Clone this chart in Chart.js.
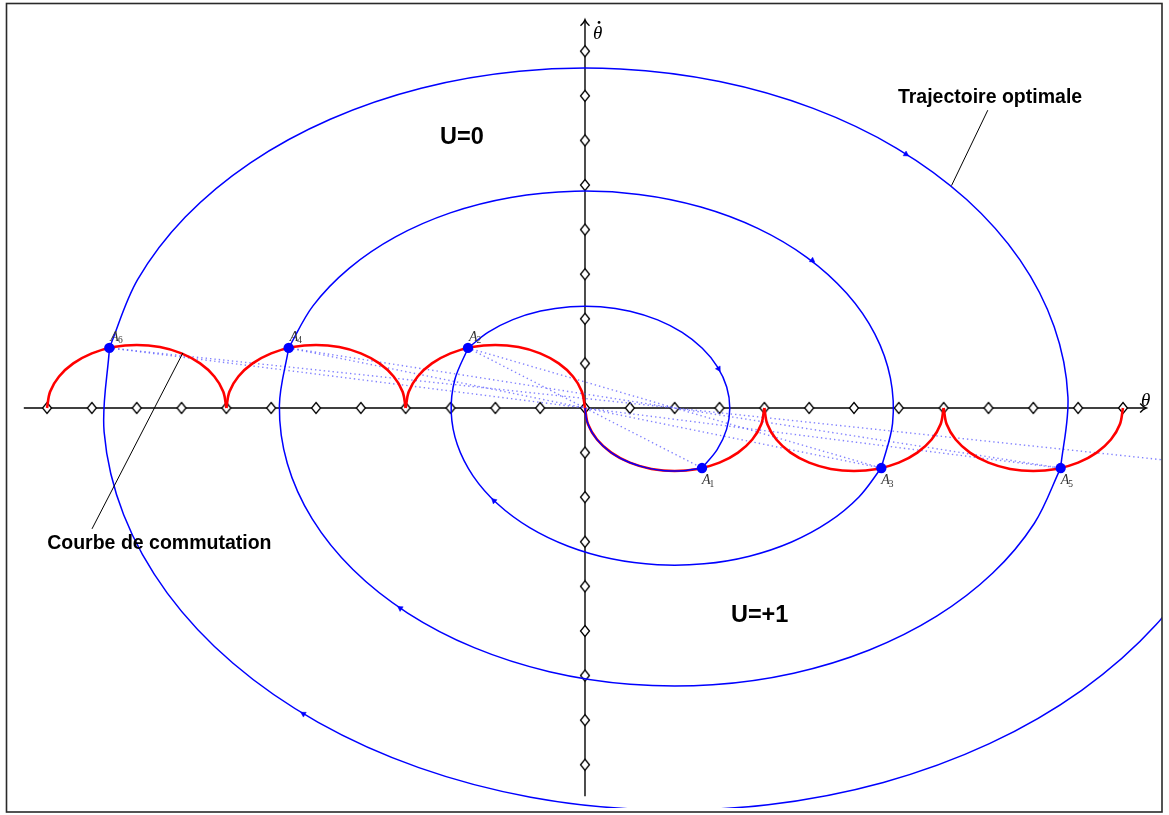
<!DOCTYPE html>
<html>
<head>
<meta charset="utf-8">
<script src="https://cdn.jsdelivr.net/npm/chart.js@4.4.1/dist/chart.umd.min.js"></script>
<style>
  html, body { margin: 0; padding: 0; background: #fff; }
  canvas { display: block; }
</style>
</head>
<body>
<canvas id="phaseChart" width="1169" height="815"></canvas>
<script>
// graduations on both axes (axis units)
const xTicks = [-12, -11, -10, -9, -8, -7, -6, -5, -4, -3, -2, -1, 0, 1, 2, 3, 4, 5, 6, 7, 8, 9, 10, 11, 12];
const yTicks = [-8, -7, -6, -5, -4, -3, -2, -1, 0, 1, 2, 3, 4, 5, 6, 7, 8];

// switching points A1..A6
const switchNames = ['1', '2', '3', '4', '5', '6'];
const switchX = [2.61, -2.61, 6.61, -6.61, 10.61, -10.61];
const switchY = [-1.347, 1.347, -1.347, 1.347, -1.347, 1.347];

// courbe de commutation (red half-arcs), [theta, thetaDot]
const commut1 = [[-12, 0], [-11.932, 0.366], [-11.732, 0.707], [-11.414, 1.0], [-11, 1.225], [-10.518, 1.366], [-10, 1.414], [-9.482, 1.366], [-9, 1.225], [-8.586, 1.0], [-8.268, 0.707], [-8.068, 0.366], [-8, 0]];
const commut2 = [[-8, 0], [-7.932, 0.366], [-7.732, 0.707], [-7.414, 1.0], [-7, 1.225], [-6.518, 1.366], [-6, 1.414], [-5.482, 1.366], [-5, 1.225], [-4.586, 1.0], [-4.268, 0.707], [-4.068, 0.366], [-4, 0]];
const commut3 = [[-4, 0], [-3.932, 0.366], [-3.732, 0.707], [-3.414, 1.0], [-3, 1.225], [-2.518, 1.366], [-2, 1.414], [-1.482, 1.366], [-1, 1.225], [-0.586, 1.0], [-0.268, 0.707], [-0.068, 0.366], [0, 0]];
const commut4 = [[0, 0], [0.068, -0.366], [0.268, -0.707], [0.586, -1.0], [1, -1.225], [1.482, -1.366], [2, -1.414], [2.518, -1.366], [3, -1.225], [3.414, -1.0], [3.732, -0.707], [3.932, -0.366], [4, 0]];
const commut5 = [[4, 0], [4.068, -0.366], [4.268, -0.707], [4.586, -1.0], [5, -1.225], [5.482, -1.366], [6, -1.414], [6.518, -1.366], [7, -1.225], [7.414, -1.0], [7.732, -0.707], [7.932, -0.366], [8, 0]];
const commut6 = [[8, 0], [8.068, -0.366], [8.268, -0.707], [8.586, -1.0], [9, -1.225], [9.482, -1.366], [10, -1.414], [10.518, -1.366], [11, -1.225], [11.414, -1.0], [11.732, -0.707], [11.932, -0.366], [12, 0]];

// trajectoire optimale, U=0 arcs (around the origin)
const u0Arc1 = [[-2.608, 1.347], [-2.156, 1.700], [-1.609, 1.981], [-0.991, 2.174], [-0.330, 2.272], [0.345, 2.271], [1.005, 2.171], [1.621, 1.975], [2.167, 1.694], [2.617, 1.338], [2.954, 0.924], [3.161, 0.470], [3.230, -0.005], [3.158, -0.480], [2.948, -0.934], [2.608, -1.347]];
const u0Arc2 = [[-6.609, 1.347], [-6.068, 2.290], [-5.262, 3.132], [-4.227, 3.837], [-3.006, 4.375], [-1.654, 4.721], [-0.230, 4.861], [1.204, 4.789], [2.585, 4.507], [3.854, 4.028], [4.954, 3.374], [5.837, 2.572], [6.467, 1.657], [6.813, 0.670], [6.861, -0.346], [6.609, -1.347]];
const u0Arc3 = [[-10.609, 1.347], [-9.980, 2.877], [-8.916, 4.282], [-7.463, 5.499], [-5.682, 6.476], [-3.655, 7.171], [-1.467, 7.551], [0.786, 7.601], [3.003, 7.320], [5.090, 6.718], [6.953, 5.824], [8.513, 4.674], [9.702, 3.320], [10.466, 1.821], [10.773, 0.242], [10.609, -1.347]];

// trajectoire optimale, U=+1 arcs (around theta = 2)
const u1Arc1 = [[2.609, -1.347], [2.201, -1.407], [1.784, -1.406], [1.376, -1.343], [0.996, -1.223], [0.658, -1.049], [0.380, -0.829], [0.172, -0.574], [0.043, -0.293], [0, 0]];
const u1Arc2 = [[6.608, -1.347], [6.111, -1.995], [5.436, -2.556], [4.609, -3.005], [3.668, -3.323], [2.655, -3.495], [1.613, -3.515], [0.588, -3.382], [-0.375, -3.100], [-1.235, -2.683], [-1.953, -2.148], [-2.498, -1.521], [-2.847, -0.826], [-2.984, -0.095], [-2.903, 0.640], [-2.608, 1.347]];
const u1Arc3 = [[10.609, -1.347], [10.024, -2.584], [9.090, -3.707], [7.845, -4.668], [6.344, -5.426], [4.655, -5.946], [2.848, -6.206], [1.005, -6.195], [-0.795, -5.913], [-2.472, -5.374], [-3.956, -4.598], [-5.177, -3.623], [-6.085, -2.488], [-6.640, -1.245], [-6.817, 0.052], [-6.609, 1.347]];
const u1Arc4 = [[13.935, -3.171], [12.742, -4.857], [11.079, -6.331], [9.021, -7.527], [6.655, -8.396], [4.085, -8.895], [1.424, -9.008], [-1.212, -8.727], [-3.707, -8.064], [-5.952, -7.049], [-7.851, -5.725], [-9.318, -4.151], [-10.291, -2.396], [-10.727, -0.537], [-10.607, 1.347]];

// small direction arrows on the trajectory
const arrowX = [7.16, 5.07, 2.98, -2.03, -4.12, -6.28];
const arrowY = [5.69, 3.31, 0.88, -2.08, -4.49, -6.86];
const arrowAngle = [122, 127, 149, -48, -56, -59];

// dotted construction lines (through O and through theta = 2)
const guides = [
  [[-10.61, 1.347], [10.61, -1.347]],
  [[-10.61, 1.347], [12.87, -1.161]],
  [[-6.61, 1.347], [6.61, -1.347]],
  [[-6.61, 1.347], [10.61, -1.347]],
  [[-2.61, 1.347], [2.61, -1.347]],
  [[-2.61, 1.347], [6.61, -1.347]]
];

// annotation leaders
const leaderTraj = [[8.985, 6.678], [8.176, 4.987]];
const leaderCommut = [[-10.997, -2.711], [-8.970, 1.234]];

const axisX = [-12.518, 12.518];
const axisY = [-8.705, 8.705];

const notes = [
  { text: 'U=0', x: -3.233, y: 5.922, size: 23.5 },
  { text: 'U=+1', x: 3.255, y: -4.798, size: 23.5 },
  { text: 'Trajectoire optimale', x: 6.98, y: 6.847, size: 19.5 },
  { text: 'Courbe de commutation', x: -11.996, y: -3.167, size: 19.5 }
];

const BLUE = '#0000ff';
const RED = '#ff0000';

const pts = arr => arr.map(([x, y]) => ({ x, y }));

function curve(arr, color, width, order, extra) {
  return Object.assign({
    data: pts(arr),
    showLine: true,
    borderColor: color,
    backgroundColor: color,
    borderWidth: width,
    pointRadius: 0,
    tension: 0.34,
    fill: false,
    order: order
  }, extra || {});
}

// tall diamond marker for the graduations
const diamond = document.createElement('canvas');
diamond.width = 12;
diamond.height = 14;
(function () {
  const c = diamond.getContext('2d');
  c.beginPath();
  c.moveTo(6, 1.5); c.lineTo(10.5, 7); c.lineTo(6, 12.5); c.lineTo(1.5, 7); c.closePath();
  c.fillStyle = '#fff';
  c.fill();
  c.lineWidth = 1.3;
  c.strokeStyle = '#000';
  c.stroke();
})();

const datasets = [];

// axes
datasets.push(curve([[axisX[0], 0], [axisX[1], 0]], '#000', 1.4, 9, { tension: 0 }));
datasets.push(curve([[0, axisY[0]], [0, axisY[1]]], '#000', 1.4, 9, { tension: 0 }));

// graduations (diamonds)
const tickPts = xTicks.map(v => [v, 0]).concat(yTicks.filter(v => v !== 0).map(v => [0, v]));
datasets.push({
  data: pts(tickPts),
  showLine: false,
  pointStyle: diamond,
  pointRadius: 6,
  order: 8
});

// dotted guides
guides.forEach(g => datasets.push(curve(g, 'rgba(90,90,255,0.75)', 1.4, 7, { tension: 0, borderDash: [1.4, 3] })));

// switching curve
[commut1, commut2, commut3, commut4, commut5, commut6].forEach(a => datasets.push(curve(a, RED, 2.6, 5)));

// trajectory
[u0Arc1, u0Arc2, u0Arc3, u1Arc1, u1Arc2, u1Arc3, u1Arc4].forEach(a => datasets.push(curve(a, BLUE, 1.5, 3)));

// leaders
datasets.push(curve(leaderTraj, '#000', 1, 2, { tension: 0 }));
datasets.push(curve(leaderCommut, '#000', 1, 2, { tension: 0 }));

// arrows on trajectory
datasets.push({
  data: arrowX.map((x, i) => ({ x, y: arrowY[i] })),
  showLine: false,
  pointStyle: 'triangle',
  pointRadius: 3.2,
  pointRotation: arrowAngle,
  pointBorderWidth: 0.5,
  pointBackgroundColor: BLUE,
  pointBorderColor: BLUE,
  order: 1
});

// switching points
const switchIndex = datasets.length;
datasets.push({
  data: switchX.map((x, i) => ({ x, y: switchY[i] })),
  showLine: false,
  pointStyle: 'circle',
  pointRadius: 5.2,
  pointBorderWidth: 0,
  pointBackgroundColor: BLUE,
  order: 0
});

const decor = {
  id: 'decor',
  afterDatasetsDraw(chart) {
    const { ctx } = chart;
    const sx = chart.scales.x, sy = chart.scales.y;
    ctx.save();

    // outer frame
    ctx.strokeStyle = '#2a2a2a';
    ctx.lineWidth = 1.6;
    ctx.strokeRect(6.5, 3.5, 1155.5, 808.5);

    // arrow heads of the axes
    ctx.strokeStyle = '#000';
    ctx.lineWidth = 1.4;
    const tx = sx.getPixelForValue(axisX[1]), ty = sy.getPixelForValue(0);
    ctx.beginPath();
    ctx.moveTo(tx - 6, ty - 4.5); ctx.quadraticCurveTo(tx - 3, ty - 1, tx, ty);
    ctx.quadraticCurveTo(tx - 3, ty + 1, tx - 6, ty + 4.5);
    ctx.stroke();
    const ux = sx.getPixelForValue(0), uy = sy.getPixelForValue(axisY[1]);
    ctx.beginPath();
    ctx.moveTo(ux - 4.5, uy + 6); ctx.quadraticCurveTo(ux - 1, uy + 3, ux, uy);
    ctx.quadraticCurveTo(ux + 1, uy + 3, ux + 4.5, uy + 6);
    ctx.stroke();

    // axis names
    ctx.fillStyle = '#000';
    ctx.font = 'italic 19px "Liberation Serif", "DejaVu Serif", serif';
    ctx.textAlign = 'left';
    ctx.textBaseline = 'alphabetic';
    ctx.fillText('\u03b8', sx.getPixelForValue(12.4), sy.getPixelForValue(0.044));
    const dx = sx.getPixelForValue(0.176), dy = sy.getPixelForValue(8.264);
    ctx.fillText('\u03b8', dx, dy);
    const tw = ctx.measureText('\u03b8').width;
    ctx.beginPath();
    ctx.arc(dx + tw / 2 + 1.5, dy - 17, 1.4, 0, Math.PI * 2);
    ctx.fill();

    // A1..A6 labels
    const meta = chart.getDatasetMeta(switchIndex);
    ctx.fillStyle = '#333';
    meta.data.forEach((p, i) => {
      const up = switchY[i] > 0;
      const lx = p.x + (up ? 1 : 0);
      const ly = p.y + (up ? -7 : 16);
      ctx.font = 'italic 14px "Liberation Serif", "DejaVu Serif", serif';
      ctx.fillText('A', lx, ly);
      const w = ctx.measureText('A').width;
      ctx.font = '9.5px "Liberation Serif", "DejaVu Serif", serif';
      ctx.fillText(switchNames[i], lx + w - 1, ly + 2.5);
    });

    // notes
    ctx.fillStyle = '#000';
    notes.forEach(n => {
      ctx.font = 'bold ' + n.size + 'px "Liberation Sans", Arial, sans-serif';
      ctx.fillText(n.text, sx.getPixelForValue(n.x), sy.getPixelForValue(n.y));
    });
    ctx.restore();
  }
};

new Chart(document.getElementById('phaseChart'), {
  type: 'scatter',
  data: { datasets },
  options: {
    responsive: false,
    animation: false,
    events: [],
    layout: { padding: 0 },
    scales: {
      x: { type: 'linear', min: -12.893, max: 12.871, display: false },
      y: { type: 'linear', min: -8.970, max: 8.992, display: false }
    },
    plugins: {
      legend: { display: false },
      tooltip: { enabled: false }
    }
  },
  plugins: [decor]
});
</script>
</body>
</html>
